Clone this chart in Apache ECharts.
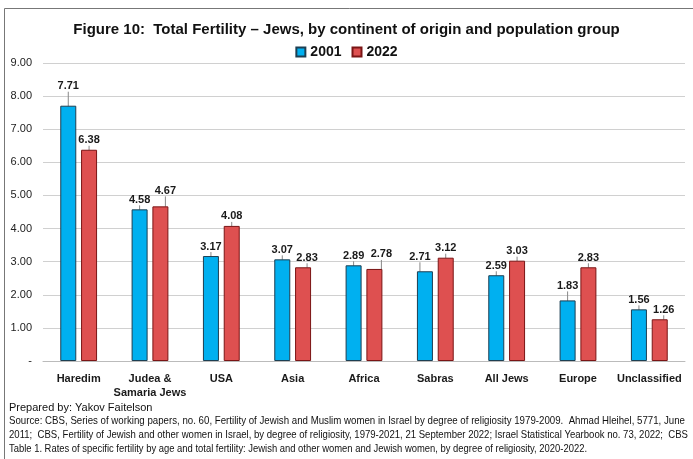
<!DOCTYPE html>
<html><head><meta charset="utf-8">
<script src="https://cdn.jsdelivr.net/npm/echarts@6/dist/echarts.min.js"></script>
<style>html,body{margin:0;padding:0;background:#fff}#c{width:693px;height:459px}</style>
</head><body><div id="c"></div>
<script>
const categories = ['Haredim','Judea &\nSamaria Jews','USA','Asia','Africa','Sabras','All Jews','Europe','Unclassified'];
const values2001 = [7.71,4.58,3.17,3.07,2.89,2.71,2.59,1.83,1.56];
const values2022 = [6.38,4.67,4.08,2.83,2.78,3.12,3.03,2.83,1.26];
const yTicks = ['-','1.00','2.00','3.00','4.00','5.00','6.00','7.00','8.00','9.00'];
const titleText = 'Figure 10:  Total Fertility \u2013 Jews, by continent of origin and population group';
const footerLines = [
 'Prepared by: Yakov Faitelson',
 'Source: CBS, Series of working papers, no. 60, Fertility of Jewish and Muslim women in Israel by degree of religiosity 1979-2009.  Ahmad Hleihel, 5771, June',
 '2011;  CBS, Fertility of Jewish and other women in Israel, by degree of religiosity, 1979-2021, 21 September 2022; Israel Statistical Yearbook no. 73, 2022;  CBS',
 'Table 1. Rates of specific fertility by age and total fertility: Jewish and other women and Jewish women, by degree of religiosity, 2020-2022.'
];
// label shifts (px) per series, for labels moved with a leader line
const shiftY2001 = [-10,0,0,0,0,-5,0,-5,0];
const shiftY2022 = [0,-6,0,0,-5,0,0,0,0];
const shiftX2001 = [0,0,0,0,0,-5,0,0,0];
const shiftX2022 = [0,5,0,4,7,0,0,0,4];
// target rendered widths of footer lines (Calibri-like narrow text)
const footerWidths = [146, 676, 679, 578];

const FONT = '"Liberation Sans",Arial,sans-serif';
const chart = echarts.init(document.getElementById('c'));
const shiftsY = [shiftY2001, shiftY2022];
const shiftsX = [shiftX2001, shiftX2022];
const ctx = document.createElement('canvas').getContext('2d');
const FOOT_SIZE = 11;
ctx.font = FOOT_SIZE + 'px ' + FONT;
const mkSeries = (name, data, color, border, idx) => ({
  name, type:'bar', data, barWidth:16, barGap:'30%',
  itemStyle:{color, borderColor:border, borderWidth:1},
  label:{show:true, position:'top', distance:4, formatter:p=>p.value.toFixed(2),
    fontFamily:FONT, fontWeight:'bold', fontSize:11, color:'#1a1a1a'},
  labelLine:{show:true, lineStyle:{color:'#888', width:1}},
  labelLayout: p => {
    const dy = shiftsY[idx][p.dataIndex], dx = shiftsX[idx][p.dataIndex];
    return (dx || dy) ? {dx:dx, dy:dy} : {};
  }
});
chart.setOption({
  animation:false,
  title:{text:titleText, left:'center', top:17, textStyle:{fontFamily:FONT, fontWeight:'bold', fontSize:15, color:'#111'}},
  legend:{top:40, left:'center', icon:'rect', itemWidth:9, itemHeight:9, itemGap:10,
    textStyle:{fontFamily:FONT, fontWeight:'bold', fontSize:14, color:'#111'}, data:['2001','2022']},
  grid:{left:43, right:8, top:63, bottom:98, containLabel:false},
  xAxis:{type:'category', data:categories, axisTick:{show:false},
    axisLine:{lineStyle:{color:'#bbb'}},
    axisLabel:{fontFamily:FONT, fontWeight:'bold', fontSize:11, color:'#1a1a1a', margin:11, lineHeight:14, interval:0}},
  yAxis:{type:'value', min:0, max:9, interval:1,
    axisLine:{show:false}, axisTick:{show:false},
    splitLine:{lineStyle:{color:'#d0d0d0'}},
    axisLabel:{fontFamily:FONT, fontSize:11, color:'#222', margin:11, formatter:(v)=>yTicks[Math.round(v)]}},
  series:[mkSeries('2001', values2001, '#00B0F0', '#1d3f52', 0), mkSeries('2022', values2022, '#DE5050', '#7a1515', 1)],
  graphic:[
    {type:'rect', shape:{x:4.5, y:8.5, width:700, height:460}, style:{fill:'none', stroke:'#777', lineWidth:1}, silent:true},
    ...footerLines.map((t,i)=>{
      const w = ctx.measureText(t).width;
      return {type:'text', x:9, y:402+i*13.7, scaleX: Math.min(1, footerWidths[i]/w),
        style:{text:t, fontFamily:FONT, fontSize:FOOT_SIZE, fill:'#111'}};
    })
  ]
});
</script></body></html>
